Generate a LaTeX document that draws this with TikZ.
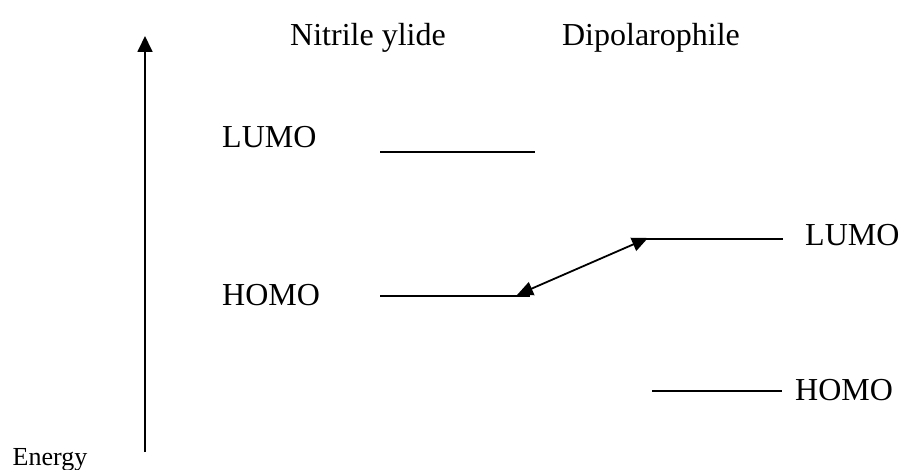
\documentclass[tikz,border=0pt]{standalone}
\usepackage{fontspec}
\setmainfont{Liberation Serif}
\usetikzlibrary{arrows.meta}
\begin{document}
\begin{tikzpicture}[x=1pt,y=-1pt,
  lbl/.style={font=\fontsize{32}{38}\selectfont, anchor=base, inner sep=0pt},
  level/.style={line width=1.8pt},
  arr/.style={line width=1.8pt, -{Triangle[length=16pt,width=15pt]}}]
\useasboundingbox (0,0) rectangle (905,470);
% axis
\coordinate (a0) at (145,452);
\coordinate (a1) at (145,36);
\draw[arr] (a0) -- (a1);
\node[lbl, font=\fontsize{26}{30}\selectfont] (energy) at (50,465) {Energy};
% headings
\node[lbl] (ny) at (368,46) {Nitrile ylide};
\node[lbl] (dp) at (651,46) {Dipolarophile};
% nitrile ylide levels
\node[lbl, anchor=base west] (l1) at (222,148) {LUMO};
\node[lbl, anchor=base west] (h1) at (222,306) {HOMO};
\coordinate (l1a) at (380,152); \coordinate (l1b) at (535,152);
\coordinate (h1a) at (380,296); \coordinate (h1b) at (530,296);
\draw[level] (l1a) -- (l1b);
\draw[level] (h1a) -- (h1b);
% dipolarophile levels
\node[lbl, anchor=base west] (l2) at (805,246) {LUMO};
\node[lbl, anchor=base west] (h2) at (795,400) {HOMO};
\coordinate (l2a) at (645,239); \coordinate (l2b) at (783,239);
\coordinate (h2a) at (652,391); \coordinate (h2b) at (782,391);
\draw[level] (l2a) -- (l2b);
\draw[level] (h2a) -- (h2b);
% interaction arrow
\coordinate (ta) at (517,295);
\coordinate (tb) at (648,238);
\draw[line width=1.8pt, {Triangle[length=16pt,width=14pt]}-{Triangle[length=16pt,width=14pt]}] (ta) -- (tb);
\end{tikzpicture}
\end{document}
